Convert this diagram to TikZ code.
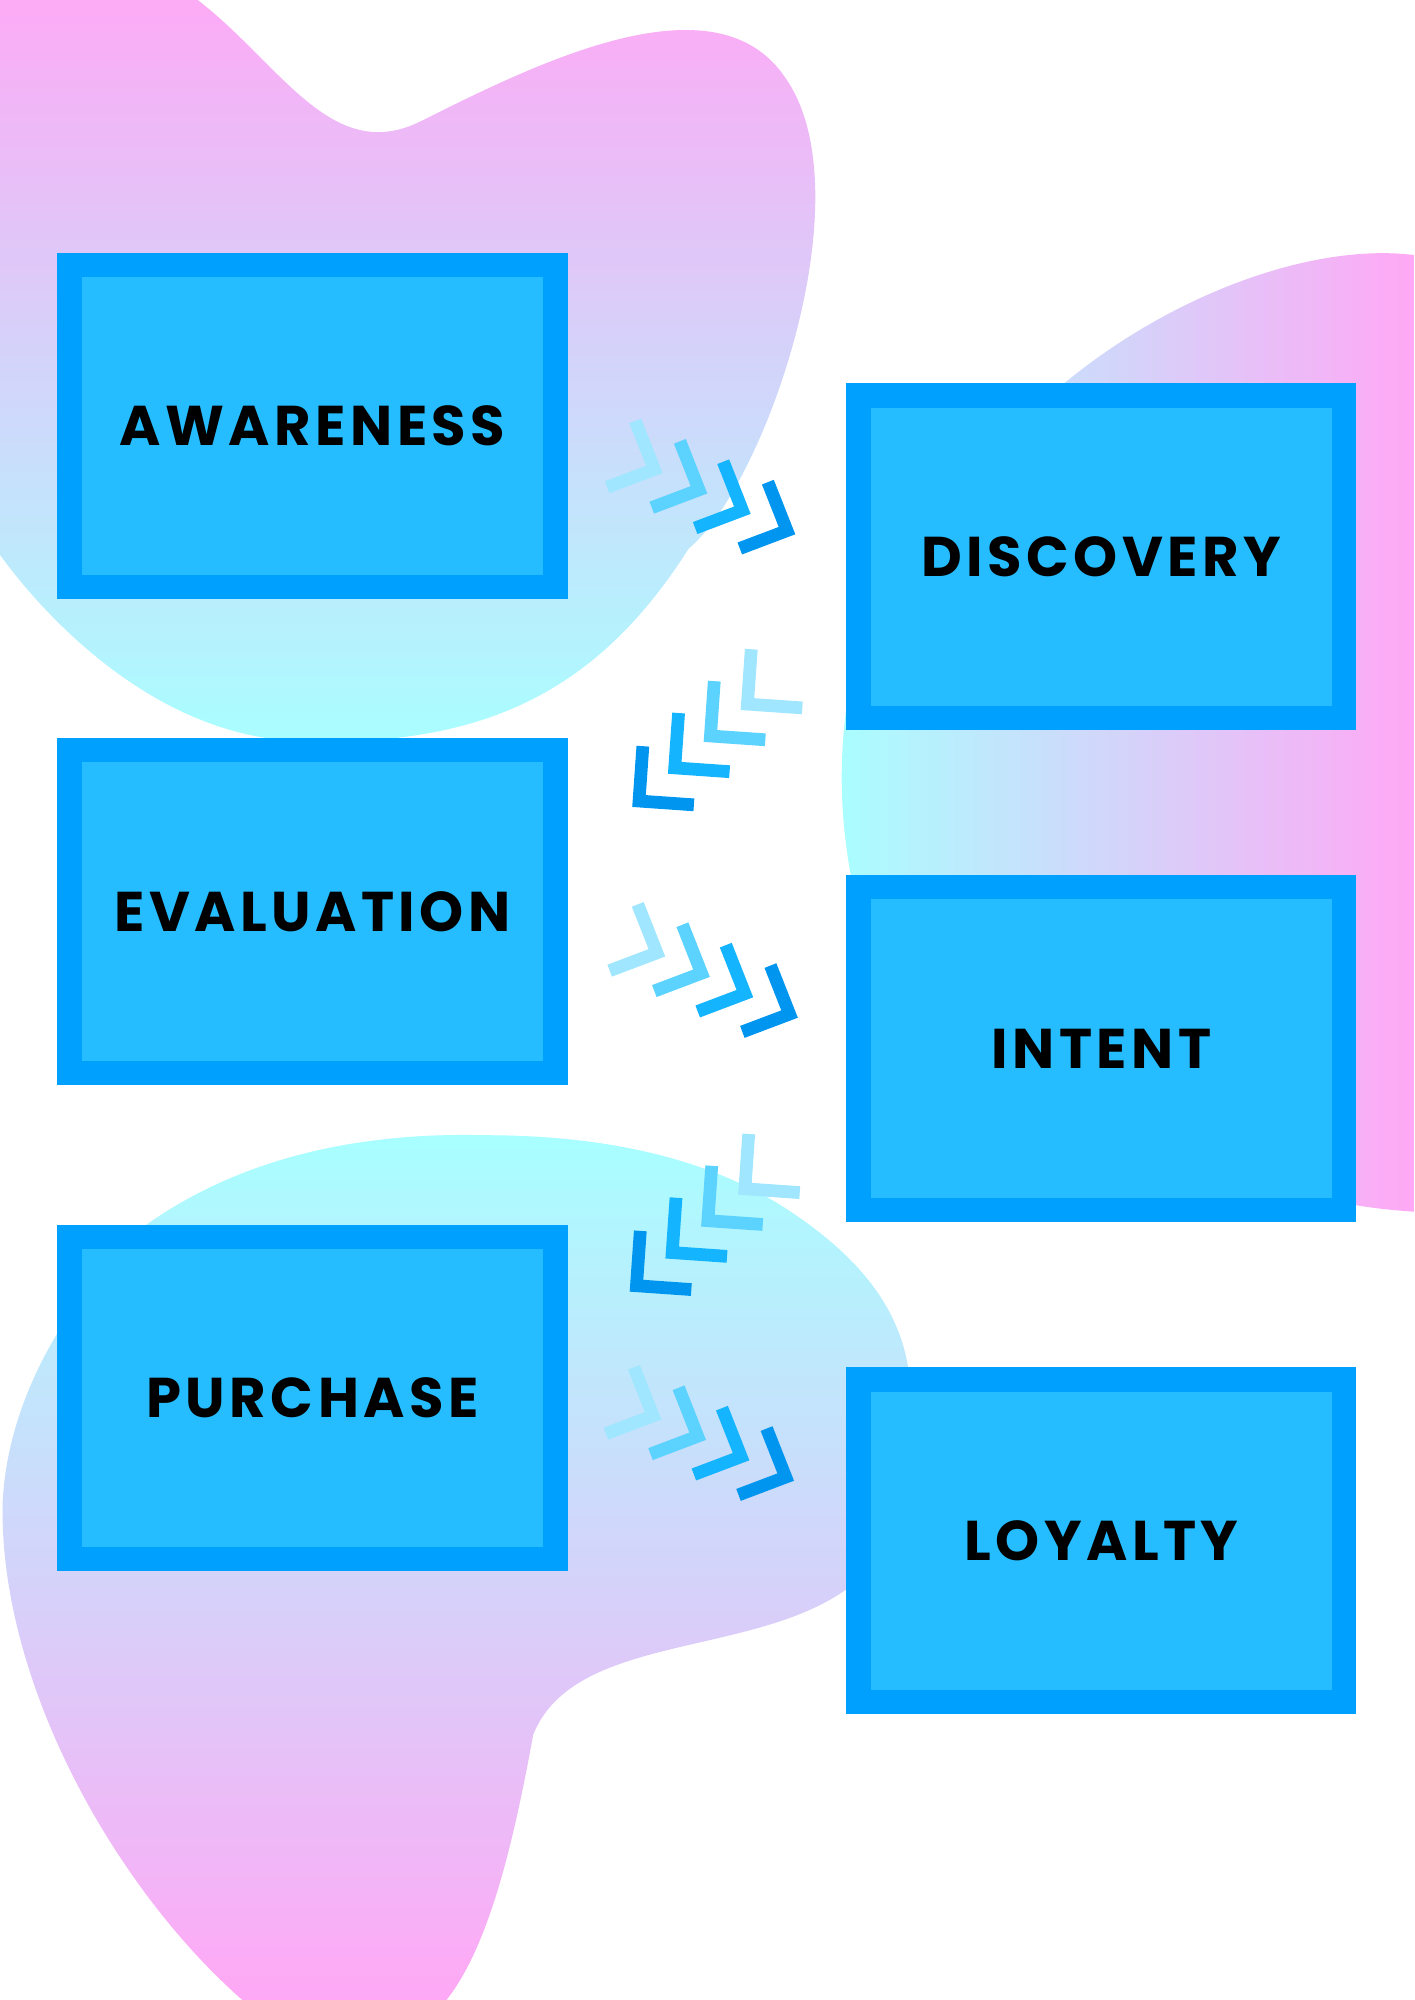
\documentclass[tikz,border=0pt]{standalone}
\usepackage{fontspec}
\newfontfamily\lab{Poppins}[LetterSpace=8]
\definecolor{bfill}{HTML}{25BDFF}
\definecolor{bborder}{HTML}{00A0FF}
\definecolor{pinkc}{HTML}{FFA8F5}
\definecolor{cyanc}{HTML}{A8FFFF}
\definecolor{ca}{HTML}{A0E6FF}
\definecolor{cb}{HTML}{5CD2FF}
\definecolor{cc}{HTML}{14B4FF}
\definecolor{cd}{HTML}{0096F0}
\tikzset{
  box/.style={draw=bborder,fill=bfill,line width=0.38cm,minimum width=7.62cm,minimum height=5.06cm,
    font=\lab\bfseries\fontsize{25}{28}\selectfont,text=black},
  chev/.style={line width=0.2cm,line cap=butt,line join=miter}
}
\newcommand{\chevR}[2]{\draw[chev,#1] ($#2+(-15,-38)$) -- #2 -- ($#2+(-37,14)$);}
\newcommand{\chevL}[2]{\draw[chev,#1] ($#2+(3,-43)$) -- #2 -- ($#2+(43,3)$);}
\usetikzlibrary{calc}
\begin{document}
\begin{tikzpicture}[x=0.02cm,y=-0.02cm]
\useasboundingbox (0,0) rectangle (1109,1568);
\begin{scope}
\clip (0,0) rectangle (1109,1568);
% top-left blob
\shade[top color=pinkc,bottom color=cyanc]
  (0,0) -- (155,0) .. controls (220,50) and (260,130) .. (330,95)
  .. controls (420,50) and (560,-20) .. (615,60)
  .. controls (680,150) and (600,380) .. (540,430)
  .. controls (470,540) and (380,590) .. (220,580)
  .. controls (120,570) and (40,490) .. (0,435) -- cycle;
% right blob
\shade[left color=cyanc,right color=pinkc]
  (835,300) .. controls (920,230) and (1030,190) .. (1109,200)
  -- (1109,950) .. controls (1080,948) and (1060,945) .. (1040,940)
  -- (700,800) .. controls (670,720) and (650,640) .. (665,545) -- cycle;
% bottom blob
\shade[shading angle=-40,top color=cyanc,bottom color=pinkc]
  (115,960) .. controls (200,900) and (300,888) .. (380,890)
  .. controls (480,890) and (560,910) .. (620,950)
  .. controls (680,990) and (705,1030) .. (712,1072)
  -- (665,1245) .. controls (590,1300) and (450,1280) .. (418,1360)
  .. controls (400,1460) and (380,1530) .. (350,1568)
  -- (190,1568) .. controls (90,1480) and (0,1320) .. (2,1180)
  .. controls (5,1100) and (50,1020) .. (115,960) -- cycle;
\end{scope}
\node[box] (aw) at (245,334) {AWARENESS};
\node[box] (di) at (863.5,436.5) {DISCOVERY};
\node[box] (ev) at (245,714.5) {EVALUATION};
\node[box] (in) at (863.5,822) {INTENT};
\node[box] (pu) at (245,1096) {PURCHASE};
\node[box] (lo) at (863.5,1208) {LOYALTY};
% right chevrons
\foreach \dx/\dy in {0/0,2/379,-1/742}{
  \chevR{ca}{(513+\dx,368+\dy)}
  \chevR{cb}{(548+\dx,384+\dy)}
  \chevR{cc}{(582+\dx,400+\dy)}
  \chevR{cd}{(617+\dx,416+\dy)}
}
% left chevrons
\foreach \dx/\dy in {0/0,-2/380}{
  \chevL{ca}{(586+\dx,552+\dy)}
  \chevL{cb}{(557+\dx,577+\dy)}
  \chevL{cc}{(529+\dx,602+\dy)}
  \chevL{cd}{(501+\dx,628+\dy)}
}
\end{tikzpicture}
\end{document}
